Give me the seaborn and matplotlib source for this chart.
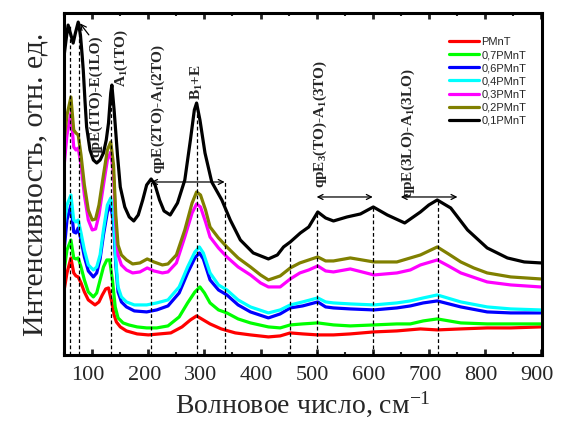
import numpy as np
import pandas as pd
import seaborn as sns
import matplotlib
matplotlib.use("Agg")
import matplotlib.pyplot as plt
from matplotlib.ticker import MultipleLocator
from matplotlib.transforms import ScaledTranslation

# ---------------- data ----------------
samples = ["PMnT", "0,7PMnT", "0,6PMnT", "0,4PMnT", "0,3PMnT", "0,2PMnT", "0,1PMnT"]
colors = ["#ff0000", "#00ff00", "#0000ff", "#00ffff", "#ff00ff", "#808000", "#000000"]

x_red = [50, 55, 62, 67, 71, 75, 80, 86, 93, 105, 112, 118, 124, 129, 134, 139, 143, 150, 161, 180, 200, 220, 240,
         260, 275, 286, 295, 310, 330, 355, 382, 414, 435, 453, 475, 502, 530, 560, 602, 643, 685, 715, 757, 804, 846, 899]
y_red = [65, 82, 97, 82, 79, 78, 72, 63, 55, 50, 53, 60, 66, 67, 55, 40, 33, 28, 24, 21, 20, 21, 22,
         28, 35, 39, 36, 31, 26, 22, 20, 18, 19, 22, 21, 20, 20, 21, 23, 24, 26, 25, 26, 27, 27, 28]

x_green = [50, 55, 62, 67, 71, 75, 80, 86, 93, 102, 108, 114, 120, 126, 131, 136, 141, 146, 155, 165, 180, 197, 215,
           235, 255, 270, 283, 292, 300, 310, 325, 340, 360, 382, 414, 435, 453, 475, 502, 530, 560, 602, 643, 667,
           690, 715, 757, 804, 846, 899]
y_green = [85, 105, 115, 97, 96, 97, 88, 75, 63, 58, 62, 75, 88, 95, 95, 75, 48, 37, 32, 30, 28, 27, 27,
           29, 38, 52, 63, 68, 62, 52, 45, 42, 36, 32, 28, 27, 30, 31, 32, 30, 29, 30, 31, 31,
           34, 36, 32, 31, 31, 31]

x_blue = [50, 55, 62, 67, 71, 75, 80, 86, 93, 102, 108, 114, 120, 127, 133, 138, 142, 146, 152, 161, 175, 197, 215,
          235, 255, 270, 283, 291, 298, 310, 325, 340, 360, 382, 414, 435, 453, 475, 502, 516, 530, 560, 602, 643,
          667, 690, 715, 757, 804, 846, 899]
y_blue = [105, 135, 150, 123, 122, 127, 115, 98, 84, 78, 82, 96, 120, 143, 150, 132, 90, 63, 53, 48, 44, 43, 45,
          49, 62, 82, 97, 102, 96, 75, 65, 60, 50, 43, 37, 41, 47, 49, 53, 48, 47, 46, 45, 47,
          49, 52, 54, 48, 43, 42, 42]

x_cyan = [50, 55, 62, 67, 71, 75, 80, 86, 93, 102, 108, 114, 120, 127, 133, 138, 142, 146, 152, 161, 175, 197, 215,
          235, 255, 270, 283, 291, 298, 310, 325, 340, 360, 382, 414, 435, 453, 475, 502, 516, 530, 560, 602, 643,
          667, 690, 715, 757, 804, 846, 899]
y_cyan = [130, 150, 160, 135, 133, 135, 122, 105, 90, 85, 88, 100, 125, 150, 157, 140, 95, 68, 58, 53, 50, 50, 52,
          55, 68, 88, 103, 108, 102, 82, 70, 65, 55, 48, 42, 45, 50, 53, 57, 53, 52, 51, 50, 52,
          54, 57, 60, 53, 48, 46, 45]

x_magenta = [50, 55, 62, 67, 71, 75, 80, 86, 93, 100, 106, 112, 120, 127, 133, 138, 142, 146, 152, 161, 172, 185,
             198, 210, 225, 235, 250, 265, 278, 286, 293, 302, 310, 325, 340, 360, 382, 400, 414, 435, 453, 470,
             486, 502, 516, 530, 560, 602, 643, 667, 685, 715, 735, 757, 804, 846, 899]
y_magenta = [190, 220, 242, 208, 205, 207, 190, 160, 135, 125, 126, 140, 170, 195, 203, 180, 130, 100, 90, 85, 82, 83,
             87, 84, 82, 83, 92, 118, 142, 151, 148, 133, 118, 107, 98, 88, 80, 72, 68, 68, 76, 82,
             85, 89, 84, 83, 86, 80, 82, 85, 90, 95, 89, 82, 73, 70, 68]

x_olive = [50, 55, 62, 67, 71, 75, 80, 86, 93, 100, 106, 112, 120, 127, 133, 138, 142, 146, 152, 161, 172, 185,
           198, 210, 225, 235, 250, 265, 278, 286, 293, 302, 310, 325, 340, 360, 382, 400, 414, 435, 453, 470,
           486, 502, 516, 530, 560, 602, 643, 667, 685, 700, 715, 735, 757, 780, 804, 846, 899]
y_olive = [215, 240, 258, 225, 222, 220, 200, 170, 145, 135, 136, 150, 180, 205, 213, 190, 140, 110, 100, 95, 91, 92,
           96, 93, 90, 91, 100, 125, 152, 163, 160, 145, 128, 117, 108, 97, 88, 80, 75, 79, 87, 92,
           95, 98, 94, 94, 97, 93, 93, 97, 100, 104, 108, 101, 93, 87, 82, 78, 76]

x_black = [50, 54, 57, 61, 66, 70, 75, 79, 82, 84, 87, 90, 96, 102, 108, 114, 120, 125, 129, 133, 135, 139, 145,
           150, 158, 166, 174, 182, 190, 197, 205, 212, 220, 228, 239, 252, 265, 275, 282, 286, 292, 301, 313, 331,
           346, 364, 387, 414, 430, 441, 453, 471, 486, 502, 516, 530, 554, 578, 601, 626, 657, 685, 700, 715, 739,
           769, 804, 840, 870, 900]
y_black = [300, 318, 330, 322, 312, 322, 333, 320, 300, 285, 255, 228, 205, 195, 192, 195, 202, 215, 232, 262, 270,
           245, 200, 168, 148, 138, 134, 140, 155, 170, 176, 170, 155, 144, 140, 152, 175, 215, 245, 252, 235, 202,
           173, 155, 135, 115, 102, 96, 100, 108, 113, 122, 128, 143, 137, 134, 138, 141, 148, 140, 132, 143, 150,
           155, 147, 125, 107, 97, 93, 92]

# dashed guide lines: position and height reached
guide_x = [60, 76, 133, 205, 286, 336, 452, 500, 600, 716]
guide_top = [330, 333, 270, 175, 252, 173, 113, 143, 148, 155]

# mode labels: text, x, y
label_text = ["qpE(1TO)-E(1LO)", r"A$_\mathbf{1}$(1TO)", r"qpE(2TO)-A$_\mathbf{1}$(2TO)", r"B$_\mathbf{1}$+E",
              r"qpE$_\mathbf{3}$(TO)-A$_\mathbf{1}$(3TO)", r"qpE(3LO)-A$_\mathbf{1}$(3LO)"]
label_x = [106, 152.5, 217.5, 286.5, 506.5, 664]
label_y = [259, 297, 246, 273, 231, 222]

# double arrows: start, end, level
arrow_x0 = [205, 500, 650]
arrow_x1 = [336, 600, 751]
arrow_y = [173, 158, 158]

# ---------------- build long table ----------------
xs = [x_red, x_green, x_blue, x_cyan, x_magenta, x_olive, x_black]
ys = [y_red, y_green, y_blue, y_cyan, y_magenta, y_olive, y_black]
frames = []
for name, xx, yy in zip(samples, xs, ys):
    frames.append(pd.DataFrame({"x": xx, "I": yy, "sample": name}))
df = pd.concat(frames, ignore_index=True)

# ---------------- style ----------------
sns.set_style("ticks")
plt.rcParams["font.family"] = ["Liberation Serif", "DejaVu Serif"]
plt.rcParams["mathtext.fontset"] = "custom"
plt.rcParams["mathtext.rm"] = "Liberation Serif"
plt.rcParams["mathtext.it"] = "Liberation Serif:italic"
plt.rcParams["mathtext.bf"] = "Liberation Serif:bold"

fig = plt.figure(figsize=(5.63, 4.22), dpi=100)
ax = fig.add_axes([0.114, 0.159, 0.849, 0.81])

sns.lineplot(data=df, x="x", y="I", hue="sample", hue_order=samples,
             palette=dict(zip(samples, colors)), estimator=None, sort=False,
             lw=2.3, ax=ax)

ax.vlines(guide_x, 0, guide_top, colors="black", linestyles=(0, (3, 2)), lw=0.9)

for t, x, y in zip(label_text, label_x, label_y):
    ax.text(x, y, t, rotation=90, ha="center", va="center", fontsize=11,
            fontweight="bold", family="Liberation Serif")

ax.annotate("", xy=(75, 334), xytext=(97, 318),
            arrowprops=dict(arrowstyle="->", lw=0.9, color="black"))

for a, b, y in zip(arrow_x0, arrow_x1, arrow_y):
    ax.annotate("", xy=(a, y), xytext=(b, y),
                arrowprops=dict(arrowstyle="<->", lw=0.9, color="black",
                                shrinkA=0, shrinkB=0, mutation_scale=9))

ax.set_xlim(50, 902)
ax.set_ylim(0, 342)
ax.xaxis.set_major_locator(MultipleLocator(100))
ax.xaxis.set_minor_locator(MultipleLocator(50))
ax.set_yticks([])
ax.tick_params(axis="x", which="major", direction="in", length=4, width=2, top=True,
               labelsize=16, pad=8)
ax.tick_params(axis="x", which="minor", direction="in", length=2.5, width=1.5, top=True)
shift = ScaledTranslation(-0.04, 0, fig.dpi_scale_trans)
for lab in ax.get_xticklabels():
    lab.set_transform(lab.get_transform() + shift)
for s in ax.spines.values():
    s.set_linewidth(2.2)
    s.set_color("black")

ax.set_xlabel(r"Волновое число, см$^{\mathregular{-1}}$", fontsize=20, labelpad=3)
ax.set_ylabel("Интенсивность, отн. ед.", fontsize=21.5, labelpad=11)

ax.legend(loc="upper left", bbox_to_anchor=(0.805, 0.93), frameon=False,
          prop={"family": "Liberation Sans", "size": 8}, handlelength=2.7,
          handletextpad=0.2, labelspacing=0.28, borderpad=0, borderaxespad=0)

fig.savefig("out.png", dpi=100)
